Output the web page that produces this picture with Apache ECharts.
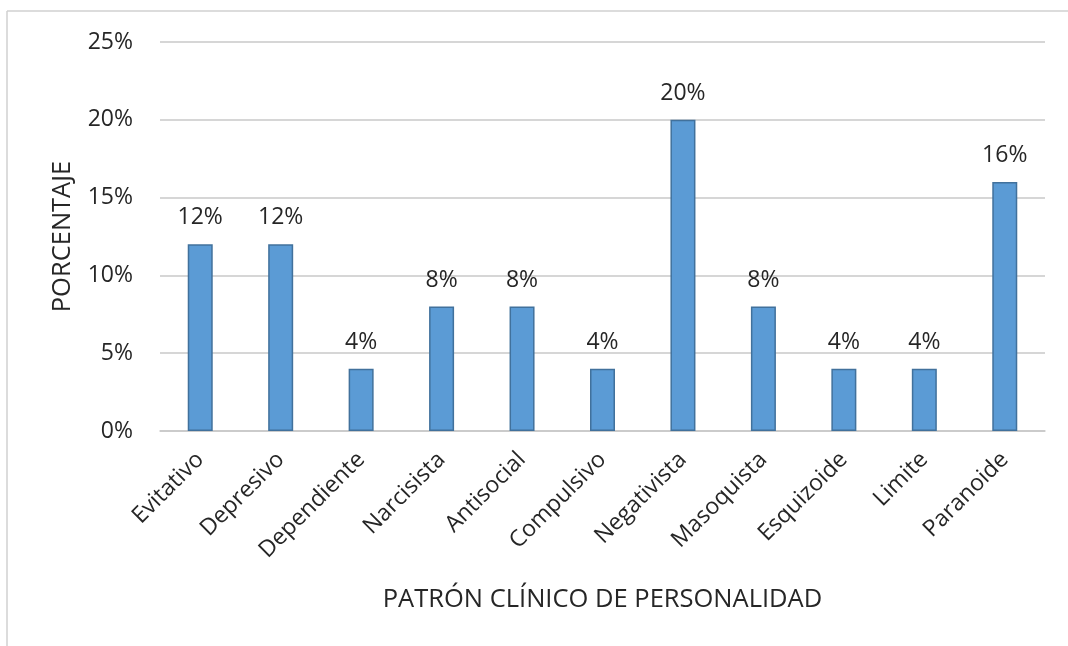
<!DOCTYPE html>
<html>
<head>
<meta charset="utf-8">
<script src="https://cdn.jsdelivr.net/npm/echarts@6/dist/echarts.min.js"></script>
<style>
  html, body { margin: 0; padding: 0; background: #fff; }
  #chart { width: 1068px; height: 646px; }
</style>
</head>
<body>
<div id="chart"></div>
<script>
  // datos del gráfico
  const categorias = ['Evitativo', 'Depresivo', 'Dependiente', 'Narcisista', 'Antisocial', 'Compulsivo',
    'Negativista', 'Masoquista', 'Esquizoide', 'Limite', 'Paranoide'];
  const porcentajes = [12, 12, 4, 8, 8, 4, 20, 8, 4, 4, 16];
  const yTicks = [0, 5, 10, 15, 20, 25];

  const fuente = '"Open Sans", Lato, sans-serif';
  const colorTexto = '#262626';

  const chart = echarts.init(document.getElementById('chart'));
  const option = {
    backgroundColor: '#fff',
    animation: false,
    textStyle: { fontFamily: fuente },
    grid: { left: 160, right: 23, top: 42, bottom: 215 },
    graphic: [
      // marco del gráfico (solo arriba e izquierda visibles)
      { type: 'line', shape: { x1: 7, y1: 11, x2: 1068, y2: 11 }, style: { stroke: '#d0d0d0', lineWidth: 1.5 } },
      { type: 'line', shape: { x1: 7, y1: 11, x2: 7, y2: 646 }, style: { stroke: '#d0d0d0', lineWidth: 1.5 } },
    ],
    xAxis: {
      type: 'category',
      data: categorias,
      name: 'PATRÓN CLÍNICO DE PERSONALIDAD',
      nameLocation: 'middle',
      nameGap: 156,
      nameTextStyle: { fontSize: 25.5, color: colorTexto, fontFamily: fuente },
      axisLine: { show: true, lineStyle: { color: '#c8c8c8', width: 1.5 } },
      axisTick: { show: false },
      axisLabel: {
        interval: 0,
        rotate: 45,
        fontSize: 23,
        color: colorTexto,
        margin: 25,
      },
    },
    yAxis: {
      type: 'value',
      min: yTicks[0],
      max: yTicks[yTicks.length - 1],
      interval: 5,
      name: 'PORCENTAJE',
      nameLocation: 'middle',
      nameGap: 84,
      nameRotate: 90,
      nameTextStyle: { fontSize: 25.5, color: colorTexto, fontFamily: fuente },
      axisLine: { show: false },
      axisTick: { show: false },
      axisLabel: {
        formatter: '{value}%',
        fontSize: 23,
        color: colorTexto,
        margin: 27,
      },
      splitLine: { lineStyle: { color: '#c8c8c8', width: 1.5 } },
    },
    series: [
      {
        type: 'bar',
        data: porcentajes,
        barWidth: 25,
        itemStyle: { color: '#5b9bd5', borderColor: '#41719c', borderWidth: 1.5 },
        label: {
          show: true,
          position: 'top',
          distance: 15,
          formatter: '{c}%',
          fontSize: 23,
          color: colorTexto,
        },
      },
    ],
  };
  chart.setOption(option);
</script>
</body>
</html>
